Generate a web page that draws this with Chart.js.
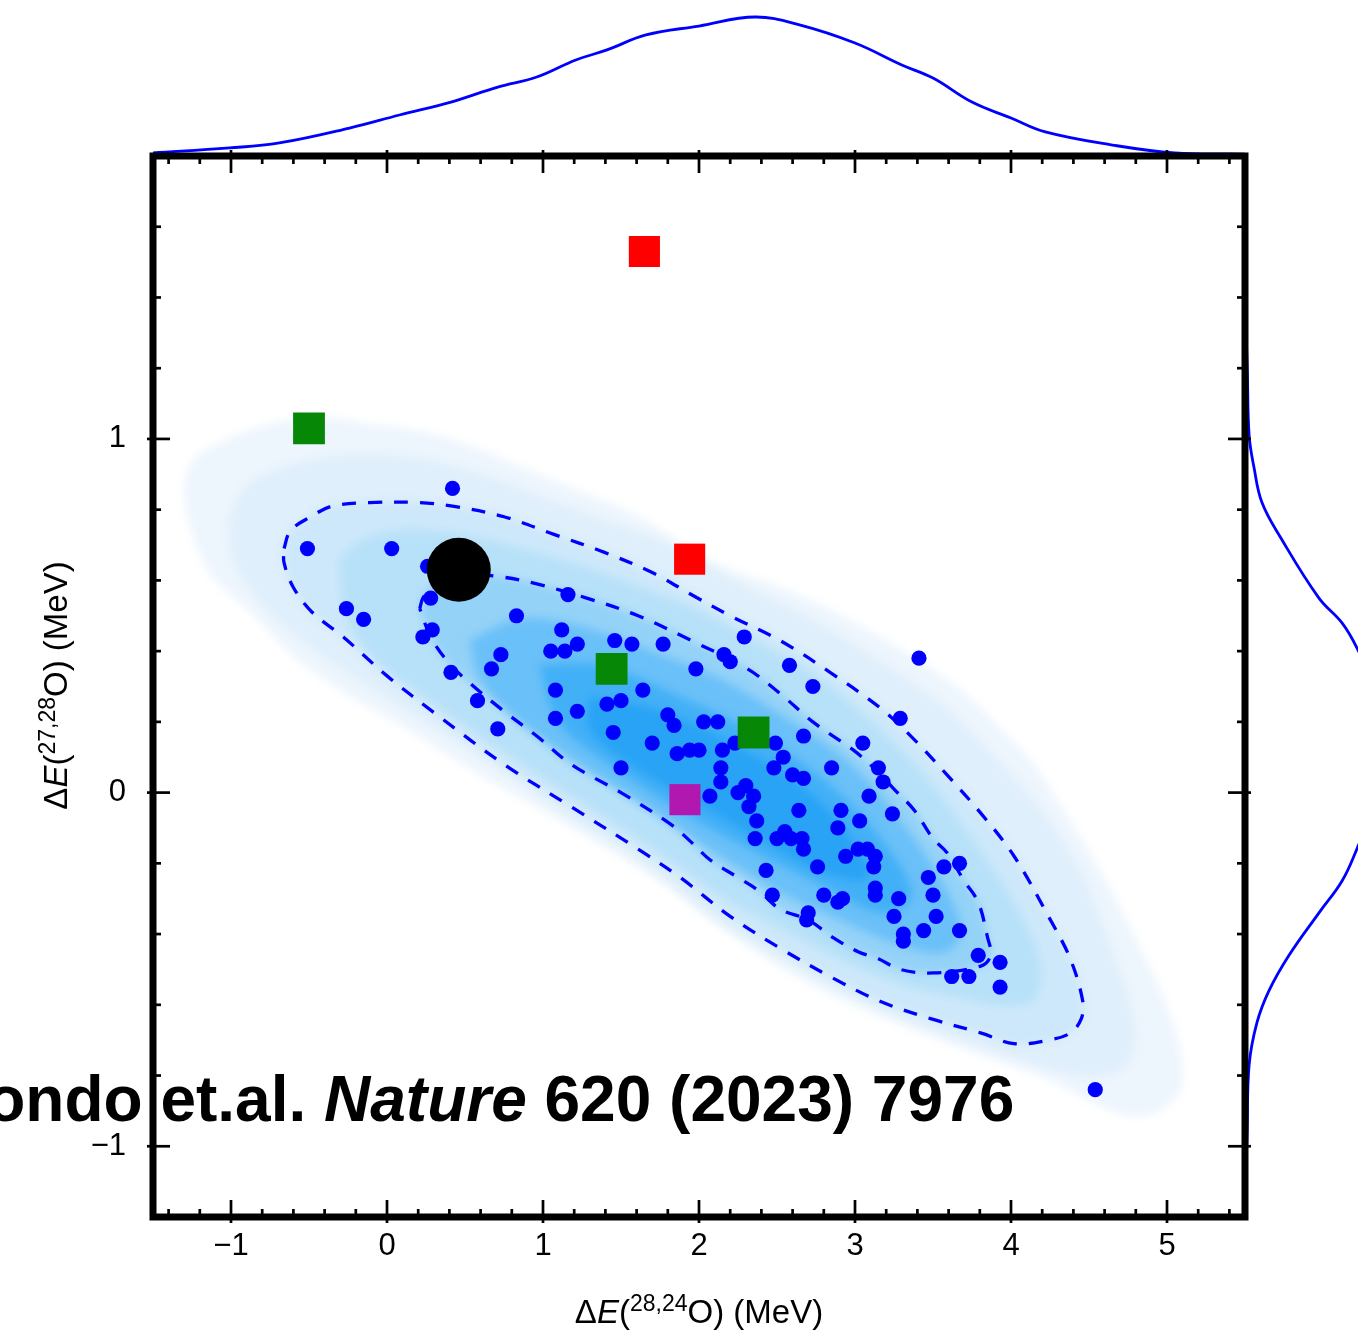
<!DOCTYPE html>
<html>
<head>
<meta charset="utf-8">
<title>ΔE correlation with marginal densities</title>
<script src="https://cdn.jsdelivr.net/npm/chart.js@4.4.1/dist/chart.umd.min.js"></script>
<style>
  html, body { margin:0; padding:0; background:#ffffff; }
  #wrap { position:relative; width:1358px; height:1333px; overflow:hidden; background:#fff; }
  #wrap canvas { position:absolute; }
  #shadeCanvas { left:0; top:0; filter: blur(5px); }
  #topCanvas { left:0; top:0; }
  #rightCanvas { left:1245px; top:0; }
  #mainCanvas { left:0; top:0; }
  #note { position:absolute; left:-60px; top:1067px; font: bold 64px "Liberation Sans", Arial, Helvetica, sans-serif; line-height:64px; white-space:nowrap; color:#000; }
</style>
</head>
<body>
<div id="wrap">
  <canvas id="shadeCanvas" width="1358" height="1333"></canvas>
  <canvas id="topCanvas" width="1358" height="160"></canvas>
  <canvas id="rightCanvas" width="113" height="1333"></canvas>
  <canvas id="mainCanvas" width="1358" height="1333"></canvas>
  <div id="note">Kondo et.al. <i>Nature</i> 620 (2023) 7976</div>
</div>
<script>
// ---------------- data ----------------
const xRange = [-1.5, 5.5];
const yRange = [-1.2, 1.8];
// tick positions (minor every 0.2, labelled at integers)
const xTickValues = [-1.4,-1.2,-1.0,-0.8,-0.6,-0.4,-0.2,0.0,0.2,0.4,0.6,0.8,1.0,1.2,1.4,1.6,1.8,2.0,2.2,2.4,2.6,2.8,3.0,3.2,3.4,3.6,3.8,4.0,4.2,4.4,4.6,4.8,5.0,5.2,5.4];
const yTickValues = [-1.0,-0.8,-0.6,-0.4,-0.2,0.0,0.2,0.4,0.6,0.8,1.0,1.2,1.4,1.6];

// sampled points (ΔE(28,24O), ΔE(27,28O))
const pointsX = [0.42,-0.51,0.03,0.26,0.28,-0.26,-0.15,0.29,0.23,0.83,
  1.12,1.16,1.05,1.14,0.73,0.67,0.41,1.08,0.58,1.08,
  0.71,1.22,1.46,1.57,1.77,2.29,1.98,2.16,2.20,2.58,
  2.73,1.64,1.41,1.50,1.22,1.45,1.80,1.84,2.03,2.12,
  1.70,1.86,1.94,2.00,2.15,2.23,2.49,2.67,2.85,3.05,
  1.50,2.14,2.14,2.07,2.30,2.25,2.35,2.32,2.48,2.54,
  2.60,2.67,2.64,2.91,3.03,2.89,2.37,2.55,2.50,2.59,
  2.66,2.67,2.36,3.09,3.15,3.18,3.24,2.76,2.94,3.02,
  3.08,3.13,3.12,2.43,2.47,2.80,2.92,2.89,2.70,2.69,
  3.13,3.13,3.28,3.25,3.31,3.31,3.44,3.52,3.67,3.47,
  3.50,3.57,3.67,3.79,3.93,3.62,3.73,3.93,3.41,3.29,4.54];
const pointsY = [0.86,0.69,0.69,0.64,0.55,0.52,0.49,0.46,0.44,0.50,
  0.46,0.56,0.40,0.40,0.39,0.35,0.34,0.29,0.26,0.21,
  0.18,0.42,0.43,0.42,0.42,0.44,0.35,0.39,0.37,0.36,
  0.30,0.29,0.25,0.26,0.23,0.17,0.22,0.19,0.20,0.20,
  0.14,0.11,0.12,0.12,0.12,0.14,0.14,0.16,0.07,0.14,
  0.07,0.07,0.03,-0.01,0.02,0.00,-0.01,-0.04,0.07,0.10,
  0.05,0.04,-0.05,-0.05,-0.08,-0.10,-0.08,-0.11,-0.13,-0.13,
  -0.13,-0.16,-0.13,-0.01,0.07,0.03,-0.06,-0.21,-0.18,-0.16,
  -0.16,-0.18,-0.21,-0.22,-0.29,-0.29,-0.30,-0.31,-0.34,-0.36,
  -0.27,-0.29,-0.30,-0.35,-0.40,-0.42,-0.39,-0.35,-0.39,-0.24,
  -0.29,-0.21,-0.20,-0.46,-0.48,-0.52,-0.52,-0.55,0.38,0.21,-0.84];

// experiment (Kondo et al.)
const kondoX = [0.46];
const kondoY = [0.63];

// model predictions (squares)
const redX = [1.65, 1.94];
const redY = [1.53, 0.66];
const greenX = [-0.50, 1.44, 2.35];
const greenY = [1.03, 0.35, 0.17];
const magentaX = [1.91];
const magentaY = [-0.02];

// dashed density contours
const outerContour = [[-0.66,0.69],[-0.62,0.74],[-0.49,0.78],[-0.35,0.81],[-0.11,0.82],[0.21,0.82],[0.42,0.81],[0.75,0.78],[1.07,0.73],[1.39,0.68],[1.71,0.62],[1.95,0.56],[2.20,0.50],[2.52,0.43],[2.84,0.34],[3.16,0.24],[3.38,0.15],[3.59,0.05],[3.81,-0.06],[4.02,-0.18],[4.24,-0.35],[4.38,-0.47],[4.46,-0.59],[4.45,-0.64],[4.38,-0.68],[4.24,-0.70],[4.02,-0.71],[3.81,-0.68],[3.49,-0.64],[3.16,-0.59],[2.84,-0.52],[2.52,-0.44],[2.20,-0.35],[1.88,-0.24],[1.61,-0.16],[1.18,-0.04],[0.75,0.08],[0.32,0.22],[0.00,0.33],[-0.28,0.44],[-0.48,0.51],[-0.60,0.58],[-0.66,0.65],[-0.66,0.69]];
const innerContour = [[0.21,0.52],[0.23,0.55],[0.30,0.59],[0.42,0.62],[0.73,0.61],[0.96,0.59],[1.28,0.55],[1.61,0.50],[1.95,0.43],[2.31,0.35],[2.52,0.28],[2.73,0.20],[2.99,0.12],[3.12,0.07],[3.25,0.01],[3.38,-0.05],[3.50,-0.13],[3.59,-0.17],[3.70,-0.25],[3.79,-0.31],[3.85,-0.41],[3.87,-0.46],[3.81,-0.49],[3.50,-0.51],[3.29,-0.50],[3.15,-0.47],[3.02,-0.45],[2.86,-0.41],[2.70,-0.36],[2.52,-0.33],[2.39,-0.28],[2.25,-0.24],[2.07,-0.19],[1.95,-0.14],[1.82,-0.09],[1.50,0.00],[1.18,0.08],[0.96,0.16],[0.75,0.23],[0.53,0.31],[0.39,0.37],[0.28,0.44],[0.21,0.52]];

// filled density levels (outer -> inner)
const level1 = [[-1.30,0.86],[-1.24,0.94],[-1.06,0.99],[-0.75,1.04],[-0.43,1.06],[-0.11,1.04],[0.32,1.01],[0.75,0.94],[1.18,0.86],[1.61,0.78],[2.09,0.65],[2.52,0.58],[2.95,0.49],[3.38,0.38],[3.70,0.28],[3.93,0.18],[4.14,0.08],[4.36,-0.07],[4.58,-0.23],[4.79,-0.41],[5.00,-0.61],[5.09,-0.76],[5.07,-0.85],[4.88,-0.91],[4.66,-0.90],[4.24,-0.81],[3.81,-0.74],[3.38,-0.67],[2.95,-0.59],[2.52,-0.49],[2.09,-0.36],[1.82,-0.27],[1.39,-0.15],[0.96,-0.04],[0.53,0.07],[0.10,0.19],[-0.22,0.27],[-0.58,0.38],[-0.87,0.51],[-1.13,0.62],[-1.27,0.77],[-1.30,0.86]];
const level2 = [[-1.01,0.77],[-0.91,0.86],[-0.72,0.91],[-0.35,0.95],[0.10,0.95],[0.53,0.91],[0.96,0.84],[1.39,0.77],[1.82,0.70],[2.27,0.59],[2.72,0.49],[3.16,0.37],[3.55,0.25],[3.87,0.11],[4.19,-0.05],[4.45,-0.23],[4.64,-0.44],[4.77,-0.61],[4.79,-0.71],[4.71,-0.78],[4.51,-0.80],[4.24,-0.78],[3.81,-0.72],[3.38,-0.65],[2.95,-0.57],[2.52,-0.47],[2.09,-0.36],[1.61,-0.19],[1.18,-0.07],[0.75,0.06],[0.32,0.18],[-0.11,0.30],[-0.54,0.43],[-0.83,0.55],[-0.98,0.66],[-1.01,0.77]];
const level4 = [[-0.30,0.66],[-0.17,0.71],[0.08,0.74],[0.47,0.73],[0.85,0.69],[1.24,0.64],[1.62,0.58],[2.01,0.51],[2.39,0.42],[2.78,0.32],[3.10,0.20],[3.42,0.06],[3.68,-0.09],[3.93,-0.25],[4.13,-0.41],[4.19,-0.52],[4.13,-0.59],[3.93,-0.60],[3.68,-0.58],[3.29,-0.54],[2.91,-0.47],[2.52,-0.38],[2.14,-0.29],[1.75,-0.17],[1.37,-0.06],[0.98,0.05],[0.60,0.16],[0.21,0.28],[-0.11,0.39],[-0.27,0.52],[-0.30,0.66]];
const level6 = [[0.53,0.43],[0.85,0.49],[1.24,0.47],[1.69,0.40],[2.14,0.32],[2.59,0.20],[2.97,0.08],[3.29,-0.08],[3.55,-0.25],[3.68,-0.39],[3.58,-0.45],[3.29,-0.43],[2.91,-0.36],[2.52,-0.28],[2.14,-0.18],[1.69,-0.05],[1.24,0.08],[0.85,0.20],[0.60,0.32],[0.53,0.43]];
const level7 = [[0.98,0.36],[1.37,0.36],[1.88,0.27],[2.39,0.16],[2.84,0.02],[3.18,-0.14],[3.36,-0.29],[3.18,-0.34],[2.78,-0.26],[2.33,-0.16],[1.88,-0.05],[1.43,0.08],[1.10,0.20],[0.98,0.36]];
const level8 = [[1.30,0.27],[1.75,0.23],[2.20,0.14],[2.65,0.02],[2.99,-0.14],[3.08,-0.24],[2.78,-0.22],[2.39,-0.13],[1.95,-0.02],[1.56,0.08],[1.30,0.18],[1.30,0.27]];
const levelColors = ['#edf5fd','#dfeffb','#cde8fa','#b7e1f9','#94d2f8','#6ac0f8','#42b0f7','#28a3f5'];

// marginal densities (normalised)
const topX = [-1.50,-1.01,-0.69,-0.24,0.08,0.41,0.71,0.96,1.21,1.41,1.66,2.00,2.36,2.65,3.00,3.30,3.50,3.75,4.00,4.22,4.65,5.05,5.50];
const topD = [0.022,0.058,0.094,0.201,0.295,0.388,0.496,0.568,0.691,0.763,0.871,0.935,1.000,0.942,0.813,0.655,0.561,0.388,0.273,0.173,0.079,0.022,0.014];
const rightY = [1.40,1.19,1.01,0.92,0.82,0.72,0.55,0.48,0.41,0.30,0.13,-0.04,-0.16,-0.25,-0.34,-0.46,-0.56,-0.65,-0.77,-0.97,-1.10];
const rightD = [0.000,0.017,0.030,0.065,0.123,0.260,0.536,0.703,0.810,0.930,1.000,0.930,0.810,0.703,0.536,0.319,0.174,0.087,0.030,0.015,0.000];

// axis titles
const xTitle = [['Δ',''],['E','italic'],['(',''],['28,24','sup'],['O) (MeV)','']];
const yTitle = [['Δ',''],['E','italic'],['(',''],['27,28','sup'],['O) (MeV)','']];

// ---------------- helpers ----------------
const FAMILY = '"Liberation Sans", Arial, Helvetica, sans-serif';
const F = (size, style) => (style ? style + ' ' : '') + size + 'px ' + FAMILY;
const isWhole = v => Math.abs(v - Math.round(v)) < 1e-6;
const fmtTick = v => { const r = Math.round(v); return r < 0 ? '\u2212' + Math.abs(r) : String(r); };
const toXY = (xs, ys) => xs.map((x, i) => ({x: x, y: ys[i]}));
const pairs = arr => arr.map(p => ({x: p[0], y: p[1]}));

const W = 1358, H = 1333;
const AREA = {left: 153, top: 156, right: 1245, bottom: 1217};
const baseOpts = {
  responsive: false, animation: false, devicePixelRatio: 1,
  events: [],
  plugins: { legend: {display: false}, tooltip: {enabled: false} }
};

// ---------------- shading chart (blurred KDE levels) ----------------
const levels = [level1, level2, outerContour, level4, innerContour, level6, level7, level8];
new Chart(document.getElementById('shadeCanvas'), {
  type: 'scatter',
  data: {
    datasets: levels.map((lv, i) => ({
      data: pairs(lv), showLine: true, fill: 'shape', tension: 0.35,
      backgroundColor: levelColors[i], borderColor: levelColors[i], borderWidth: 1,
      pointRadius: 0, order: 100 - i
    }))
  },
  options: Object.assign({}, baseOpts, {
    layout: { padding: {left: AREA.left, top: AREA.top, right: W - AREA.right, bottom: H - AREA.bottom} },
    scales: {
      x: {type: 'linear', display: false, min: xRange[0], max: xRange[1]},
      y: {type: 'linear', display: false, min: yRange[0], max: yRange[1]}
    }
  })
});

// ---------------- top marginal ----------------
new Chart(document.getElementById('topCanvas'), {
  type: 'scatter',
  data: { datasets: [{ data: toXY(topX, topD), showLine: true, tension: 0.4, borderColor: '#0000ff', borderWidth: 2.8, pointRadius: 0, fill: false }] },
  options: Object.assign({}, baseOpts, {
    layout: { padding: {left: AREA.left, right: W - AREA.right, top: 0, bottom: 160 - AREA.top} },
    scales: {
      x: {type: 'linear', display: false, min: xRange[0], max: xRange[1]},
      y: {type: 'linear', display: false, min: 0, max: AREA.top / 139}
    }
  })
});

// ---------------- right marginal ----------------
new Chart(document.getElementById('rightCanvas'), {
  type: 'scatter',
  data: { datasets: [{ data: rightD.map((d, i) => ({x: d, y: rightY[i]})), showLine: true, tension: 0.4, borderColor: '#0000ff', borderWidth: 2.8, pointRadius: 0, fill: false }] },
  options: Object.assign({}, baseOpts, {
    layout: { padding: {left: 0, right: 0, top: AREA.top, bottom: H - AREA.bottom} },
    scales: {
      x: {type: 'linear', display: false, min: 0, max: 113 / 138},
      y: {type: 'linear', display: false, min: yRange[0], max: yRange[1]}
    }
  })
});

// ---------------- main chart ----------------
function drawRich(ctx, parts, cx, baseline) {
  const items = parts.map(([t, st]) => {
    const font = st === 'sup' ? F(23) : F(33, st);
    ctx.font = font;
    return {t, font, dy: st === 'sup' ? -12 : 0, w: ctx.measureText(t).width};
  });
  const total = items.reduce((s, it) => s + it.w, 0);
  let x = cx - total / 2;
  items.forEach(it => { ctx.font = it.font; ctx.fillText(it.t, x, baseline + it.dy); x += it.w; });
}

const framePlugin = {
  id: 'frameTicksTitles',
  afterDraw(chart) {
    const {ctx, chartArea: a, scales} = chart;
    const xs = scales.x, ys = scales.y;
    ctx.save();
    ctx.strokeStyle = '#000';
    ctx.lineCap = 'butt';
    ctx.lineWidth = 2.7;
    const seg = (x1, y1, x2, y2) => { ctx.beginPath(); ctx.moveTo(x1, y1); ctx.lineTo(x2, y2); ctx.stroke(); };
    xs.ticks.forEach(t => {
      const v = t.value;
      const p = xs.getPixelForValue(v);
      const maj = isWhole(v), out = maj ? 6 : 0, inn = maj ? 17 : 8;
      seg(p, a.bottom + out, p, a.bottom - inn);
      seg(p, a.top - out, p, a.top + inn);
    });
    ys.ticks.forEach(t => {
      const v = t.value;
      const p = ys.getPixelForValue(v);
      const maj = isWhole(v), out = maj ? 6 : 0, inn = maj ? 17 : 8;
      seg(a.left - out, p, a.left + inn, p);
      seg(a.right + out, p, a.right - inn, p);
    });
    ctx.lineWidth = 7;
    ctx.lineJoin = 'miter';
    ctx.strokeRect(a.left, a.top, a.right - a.left, a.bottom - a.top);

    ctx.fillStyle = '#000';
    ctx.textAlign = 'left';
    ctx.textBaseline = 'alphabetic';
    drawRich(ctx, xTitle, (a.left + a.right) / 2, a.bottom + 106);
    ctx.translate(a.left - 86, (a.top + a.bottom) / 2 - 1);
    ctx.rotate(-Math.PI / 2);
    drawRich(ctx, yTitle, 0, 0);
    ctx.restore();
  }
};

const lineSet = (arr) => ({
  data: pairs(arr), showLine: true, fill: false, tension: 0.35,
  borderColor: '#0000ff', borderWidth: 3.3, borderDash: [14, 12],
  pointRadius: 0, order: 40
});

new Chart(document.getElementById('mainCanvas'), {
  type: 'scatter',
  data: {
    datasets: [
      { label: 'Kondo et al.', data: toXY(kondoX, kondoY), pointRadius: 32, pointHoverRadius: 32, backgroundColor: '#000000', borderWidth: 0, order: 1 },
      { label: 'red', data: toXY(redX, redY), pointStyle: 'rect', pointRadius: 22, pointHoverRadius: 22, backgroundColor: '#ff0000', borderWidth: 0, order: 2 },
      { label: 'green', data: toXY(greenX, greenY), pointStyle: 'rect', pointRadius: 22.5, pointHoverRadius: 22.5, backgroundColor: '#068806', borderWidth: 0, order: 2 },
      { label: 'magenta', data: toXY(magentaX, magentaY), pointStyle: 'rect', pointRadius: 22, pointHoverRadius: 22, backgroundColor: '#b018b0', borderWidth: 0, order: 2 },
      { label: 'samples', data: toXY(pointsX, pointsY), pointRadius: 7.6, pointHoverRadius: 7.6, backgroundColor: '#0000ff', borderWidth: 0, order: 3 },
      lineSet(outerContour),
      lineSet(innerContour)
    ]
  },
  options: Object.assign({}, baseOpts, {
    layout: { padding: {top: AREA.top, right: W - AREA.right, left: 0, bottom: 0} },
    scales: {
      x: {
        type: 'linear', position: 'bottom', min: xRange[0], max: xRange[1],
        grid: {display: false, drawTicks: false}, border: {display: false},
        afterBuildTicks: s => { s.ticks = xTickValues.map(v => ({value: v})); },
        ticks: { autoSkip: false, maxRotation: 0, minRotation: 0,
                 padding: 11, color: '#000', font: {size: 31, family: FAMILY},
                 callback: v => isWhole(v) ? fmtTick(v) : '' },
        afterFit: s => { s.height = H - AREA.bottom; }
      },
      y: {
        type: 'linear', position: 'left', min: yRange[0], max: yRange[1],
        grid: {display: false, drawTicks: false}, border: {display: false},
        afterBuildTicks: s => { s.ticks = yTickValues.map(v => ({value: v})); },
        ticks: { autoSkip: false,
                 padding: 27, color: '#000', font: {size: 31, family: FAMILY},
                 callback: v => isWhole(v) ? fmtTick(v) : '' },
        afterFit: s => { s.width = AREA.left; }
      }
    }
  }),
  plugins: [framePlugin]
});
</script>
</body>
</html>
